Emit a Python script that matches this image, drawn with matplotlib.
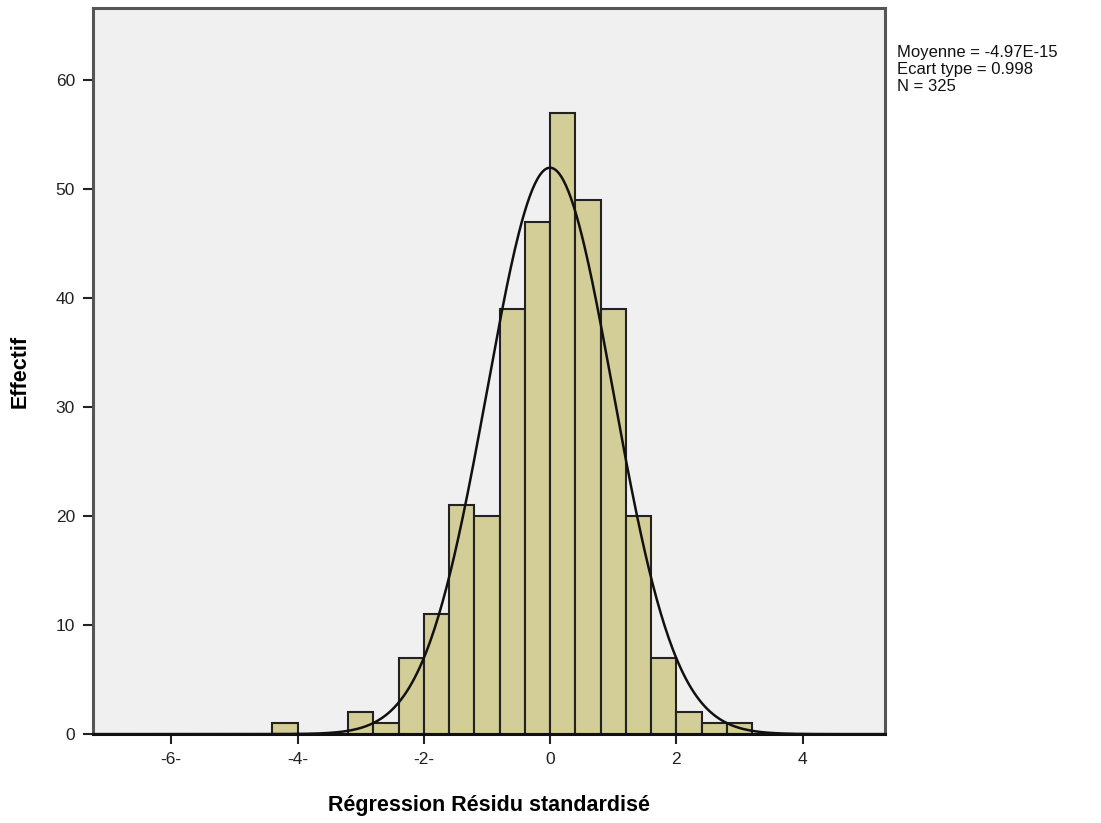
import matplotlib.pyplot as plt
import numpy as np

# histogram of standardized residuals (bin width 0.4)
bin_edges = [-4.4, -4.0, -3.6, -3.2, -2.8, -2.4, -2.0, -1.6, -1.2, -0.8, -0.4,
             0.0, 0.4, 0.8, 1.2, 1.6, 2.0, 2.4, 2.8, 3.2]
counts = [1, 0, 0, 2, 1, 7, 11, 21, 20, 39, 47, 57, 49, 39, 20, 7, 2, 1, 1]

mean = -4.97e-15
std = 0.998
n = 325

xticks = [-6, -4, -2, 0, 2, 4]
xtick_labels = ["-6-", "-4-", "-2-", "0", "2", "4"]
yticks = [0, 10, 20, 30, 40, 50, 60]

plt.rcParams['font.family'] = ['Liberation Sans', 'DejaVu Sans']

fig = plt.figure(figsize=(11.01, 8.23), dpi=100)
ax = fig.add_axes([0.0845, 0.108, 0.7195, 0.882])
ax.set_facecolor("#f0f0f0")

lefts = bin_edges[:-1]
widths = np.diff(bin_edges)
ax.bar(lefts, counts, width=widths, align="edge", color="#d3ce97",
       edgecolor="#222222", linewidth=1.5, zorder=2)

# normal curve scaled to counts
xs = np.linspace(-7.3, 5.4, 600)
bw = 0.4
ys = n * bw / (std * np.sqrt(2 * np.pi)) * np.exp(-0.5 * ((xs - mean) / std) ** 2)
ax.plot(xs, ys, color="#111111", linewidth=1.8, zorder=3)

ax.set_xlim(-7.24, 5.31)
ax.set_ylim(0, 66.6)
ax.set_xticks(xticks)
ax.set_xticklabels(xtick_labels)
ax.set_yticks(yticks)
ax.tick_params(axis="both", direction="out", length=7, width=1.5,
               labelsize=12.5, colors="#222222", pad=6)

for side in ["left", "top", "right"]:
    ax.spines[side].set_color("#555555")
    ax.spines[side].set_linewidth(2.2)
ax.spines["bottom"].set_color("#111111")
ax.spines["bottom"].set_linewidth(2.2)

ax.set_xlabel("Régression Résidu standardisé", fontsize=15.5, fontweight="bold",
              labelpad=20)
ax.set_ylabel("Effectif", fontsize=15.5, fontweight="bold", labelpad=18)

fig.text(0.815, 0.945,
         "Moyenne = -4.97E-15\nEcart type = 0.998\nN = 325",
         fontsize=12, va="top", ha="left", linespacing=1.15, color="#111111")

fig.savefig("out.png", dpi=100)
